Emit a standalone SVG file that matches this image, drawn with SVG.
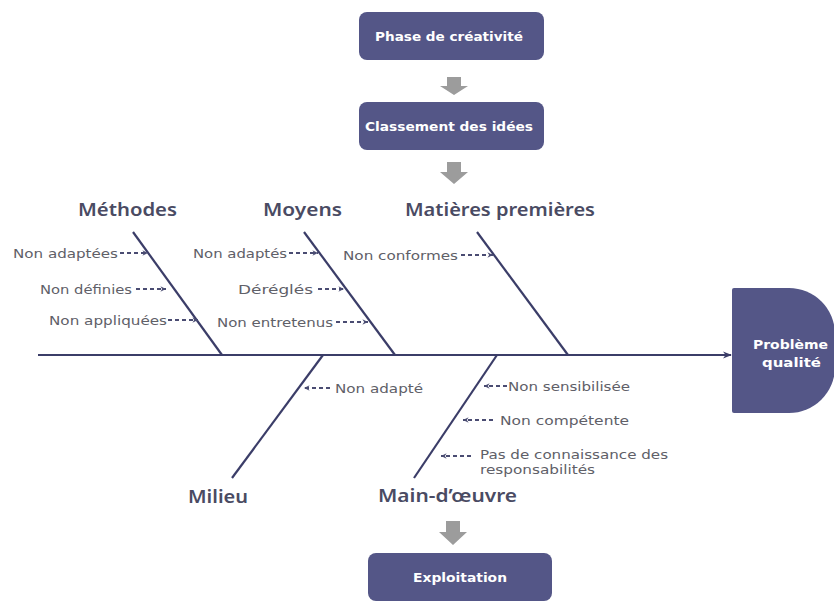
<svg xmlns="http://www.w3.org/2000/svg" width="834" height="605" viewBox="0 0 834 605">
  <style>
    .box { fill: #545687; }
    .boxtxt { font-family: "DejaVu Sans", "Liberation Sans", sans-serif; font-size: 12.5px; font-weight: 700; fill: #ffffff; }
    .bone { stroke: #3b3d68; stroke-width: 2.2; fill: none; }
    .cat { font-family: "Noto Sans", "DejaVu Sans", sans-serif; font-size: 17px; font-weight: 600; fill: #4a4b63; }
    .cause { font-family: "DejaVu Sans", "Liberation Sans", sans-serif; font-size: 12.5px; fill: #606068; }
    .dash { stroke: #4a4c72; stroke-width: 1.8; stroke-dasharray: 4 3; fill: none; }
    .flow { fill: #9c9c9c; }
  </style>
  <defs>
    <marker id="chev" viewBox="0 0 10 10" refX="9" refY="5" markerWidth="7" markerHeight="7" orient="auto" markerUnits="userSpaceOnUse">
      <path d="M1,1 L9,5 L1,9 L3.5,5 Z" fill="#4a4c72"/>
    </marker>
    <marker id="spineHead" viewBox="0 0 10 10" refX="9" refY="5" markerWidth="9" markerHeight="9" orient="auto" markerUnits="userSpaceOnUse">
      <path d="M0,1 L10,5 L0,9 L3,5 Z" fill="#3b3d68"/>
    </marker>
  </defs>

  <rect width="834" height="605" fill="#ffffff"/>

  <!-- process boxes -->
  <g id="phase">
    <rect class="box" x="359" y="12" width="185" height="48" rx="8"/>
    <text class="boxtxt" x="375" y="40.5" textLength="148" lengthAdjust="spacingAndGlyphs">Phase de créativité</text>
  </g>
  <g id="classement">
    <rect class="box" x="359" y="102" width="185" height="48" rx="8"/>
    <text class="boxtxt" x="365" y="130.5" textLength="168" lengthAdjust="spacingAndGlyphs">Classement des idées</text>
  </g>
  <g id="exploitation">
    <rect class="box" x="368" y="553" width="184" height="48" rx="8"/>
    <text class="boxtxt" x="413" y="581.5" textLength="94" lengthAdjust="spacingAndGlyphs">Exploitation</text>
  </g>
  <g id="probleme">
    <path class="box" d="M734,288 H789 A46,46 0 0 1 835,334 V367 A46,46 0 0 1 789,413 H734 Q732,413 732,411 V290 Q732,288 734,288 Z"/>
    <text class="boxtxt" x="753" y="349" textLength="75" lengthAdjust="spacingAndGlyphs">Problème</text>
    <text class="boxtxt" x="762" y="367" textLength="59" lengthAdjust="spacingAndGlyphs">qualité</text>
  </g>

  <!-- flow arrows between stages -->
  <g id="flow-arrows">
    <path class="flow" d="M447,77 H461 V86 H468 L454,95 L440,86 H447 Z"/>
    <path class="flow" d="M447,162 H461 V172 H468 L454,184 L440,172 H447 Z"/>
    <path class="flow" d="M446,521 H460 V532 H467 L453,545 L439,532 H446 Z"/>
  </g>

  <!-- fishbone skeleton -->
  <g id="connectors">
    <line class="bone" x1="38" y1="355" x2="731" y2="355" marker-end="url(#spineHead)"/>
    <line class="bone" x1="133" y1="232" x2="222" y2="355"/>
    <line class="bone" x1="304" y1="232" x2="395" y2="355"/>
    <line class="bone" x1="477" y1="232" x2="568" y2="355"/>
    <line class="bone" x1="323" y1="355" x2="232" y2="478"/>
    <line class="bone" x1="497" y1="355" x2="414" y2="478"/>

    <!-- cause pointers -->
    <line class="dash" x1="120" y1="253" x2="148" y2="253" marker-end="url(#chev)"/>
    <line class="dash" x1="136" y1="289" x2="166" y2="289" marker-end="url(#chev)"/>
    <line class="dash" x1="168" y1="320" x2="198" y2="320" marker-end="url(#chev)"/>
    <line class="dash" x1="289" y1="253" x2="318" y2="253" marker-end="url(#chev)"/>
    <line class="dash" x1="318" y1="289" x2="344" y2="289" marker-end="url(#chev)"/>
    <line class="dash" x1="336" y1="322" x2="368" y2="322" marker-end="url(#chev)"/>
    <line class="dash" x1="461" y1="255" x2="493" y2="255" marker-end="url(#chev)"/>
    <line class="dash" x1="330" y1="388" x2="304" y2="388" marker-end="url(#chev)"/>
    <line class="dash" x1="507" y1="386" x2="484" y2="386" marker-end="url(#chev)"/>
    <line class="dash" x1="493" y1="420" x2="463" y2="420" marker-end="url(#chev)"/>
    <line class="dash" x1="471" y1="456" x2="441" y2="456" marker-end="url(#chev)"/>
  </g>

  <!-- category headings -->
  <g id="methodes"><text class="cat" x="78" y="216" textLength="99" lengthAdjust="spacingAndGlyphs">Méthodes</text></g>
  <g id="moyens"><text class="cat" x="263" y="216" textLength="79" lengthAdjust="spacingAndGlyphs">Moyens</text></g>
  <g id="matieres"><text class="cat" x="405" y="216" textLength="190" lengthAdjust="spacingAndGlyphs">Matières premières</text></g>
  <g id="milieu"><text class="cat" x="188" y="503" textLength="60" lengthAdjust="spacingAndGlyphs">Milieu</text></g>
  <g id="main-oeuvre"><text class="cat" x="378" y="502" textLength="139" lengthAdjust="spacingAndGlyphs">Main-d’œuvre</text></g>

  <!-- causes -->
  <g id="causes">
    <text class="cause" x="13" y="257.5" textLength="105" lengthAdjust="spacingAndGlyphs">Non adaptées</text>
    <text class="cause" x="40" y="293.5" textLength="92" lengthAdjust="spacingAndGlyphs">Non définies</text>
    <text class="cause" x="49" y="324.5" textLength="118" lengthAdjust="spacingAndGlyphs">Non appliquées</text>
    <text class="cause" x="193" y="257.5" textLength="94" lengthAdjust="spacingAndGlyphs">Non adaptés</text>
    <text class="cause" x="238" y="293.5" textLength="75" lengthAdjust="spacingAndGlyphs">Déréglés</text>
    <text class="cause" x="217" y="326.5" textLength="116" lengthAdjust="spacingAndGlyphs">Non entretenus</text>
    <text class="cause" x="343" y="259.5" textLength="115" lengthAdjust="spacingAndGlyphs">Non conformes</text>
    <text class="cause" x="335" y="392.5" textLength="88" lengthAdjust="spacingAndGlyphs">Non adapté</text>
    <text class="cause" x="508" y="390.5" textLength="122" lengthAdjust="spacingAndGlyphs">Non sensibilisée</text>
    <text class="cause" x="500" y="424.5" textLength="129" lengthAdjust="spacingAndGlyphs">Non compétente</text>
    <text class="cause" x="480" y="459" textLength="188" lengthAdjust="spacingAndGlyphs">Pas de connaissance des</text>
    <text class="cause" x="480" y="474" textLength="115" lengthAdjust="spacingAndGlyphs">responsabilités</text>
  </g>
</svg>
